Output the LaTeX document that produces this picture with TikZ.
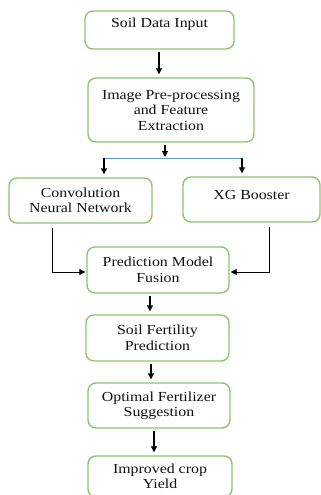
\documentclass[tikz,border=0pt]{standalone}
\usepackage{fontspec}
\setmainfont{Liberation Serif}[FakeStretch=1.15]
\usepackage{xcolor}
\usepackage{tikz}
\usetikzlibrary{calc,arrows.meta}
\definecolor{boxline}{HTML}{8CC66B}
\definecolor{split}{HTML}{5B9BD5}
\definecolor{ink}{HTML}{111111}
\newcommand{\lift}[2]{\raisebox{#1}[\height][\depth]{#2}}
\tikzset{
  stage/.style={draw=boxline, line width=1.4pt, rounded corners=8pt, align=center,
    text=ink, inner sep=2pt, font=\fontsize{13.8}{15.5}\selectfont},
  arr/.style={draw=black, line width=1.1pt, -{Triangle[length=6pt,width=6pt]},
    shorten <=2pt, shorten >=3pt},
  link/.style={draw=black, line width=0.9pt, -{Triangle[length=6pt,width=6pt]},
    shorten <=4pt, shorten >=1pt},
  bus/.style={draw=split, line width=0.9pt},
}

\begin{document}
\begin{tikzpicture}[x=1pt,y=-1pt]
  \useasboundingbox (0,0) rectangle (321,495);
  \node[stage, minimum width=149pt, minimum height=38pt] (input) at (159.5,30) {\lift{6pt}{Soil Data Input}};
  \node[stage, minimum width=166pt, minimum height=64pt] (prep) at (171,110) {Image Pre-processing\\and Feature\\Extraction};
  \node[stage, minimum width=143pt, minimum height=45pt] (cnn) at (80.5,200.5) {Convolution\\Neural Network};
  \node[stage, minimum width=137pt, minimum height=45pt] (xgb) at (251.5,199.5) {\lift{5pt}{XG Booster}};
  \node[stage, minimum width=142pt, minimum height=46pt] (fusion) at (158,270) {Prediction Model\\Fusion};
  \node[stage, minimum width=143pt, minimum height=46pt] (fert) at (157.5,338) {Soil Fertility\\Prediction};
  \node[stage, minimum width=142pt, minimum height=45pt] (optim) at (159,405.5) {Optimal Fertilizer\\Suggestion};
  \node[stage, minimum width=144pt, minimum height=41pt] (yield) at (160,476.5) {Improved crop\\Yield};
  % split to both models
  \coordinate (split) at (165,158);
  \coordinate (splitL) at (104,158);
  \coordinate (splitR) at (242,158);
  \draw[arr] ([xshift=-0.5pt]input.south) -- ([xshift=-0.5pt]input.south |- prep.north);
  \draw[arr, shorten >=1pt] (split |- prep.south) -- (split);
  \draw[bus] (splitL) -- (splitR);
  \draw[arr, shorten <=0pt] (splitL) -- (splitL |- cnn.north);
  \draw[arr, shorten <=0pt] (splitR) -- (splitR |- xgb.north);
  % models into fusion
  \draw[link] ([xshift=-28.5pt]cnn.south) |- ([yshift=-2pt]fusion.west);
  \draw[link] ([xshift=17.5pt]xgb.south) |- ([yshift=-2pt]fusion.east);
  \draw[arr] ([xshift=-8pt]fusion.south) -- ([xshift=-8pt]fusion.south |- fert.north);
  \draw[arr] ([xshift=-6.5pt]fert.south) -- ([xshift=-6.5pt]fert.south |- optim.north);
  \draw[arr] ([xshift=-5pt]optim.south) -- ([xshift=-5pt]optim.south |- yield.north);
\end{tikzpicture}
\end{document}
